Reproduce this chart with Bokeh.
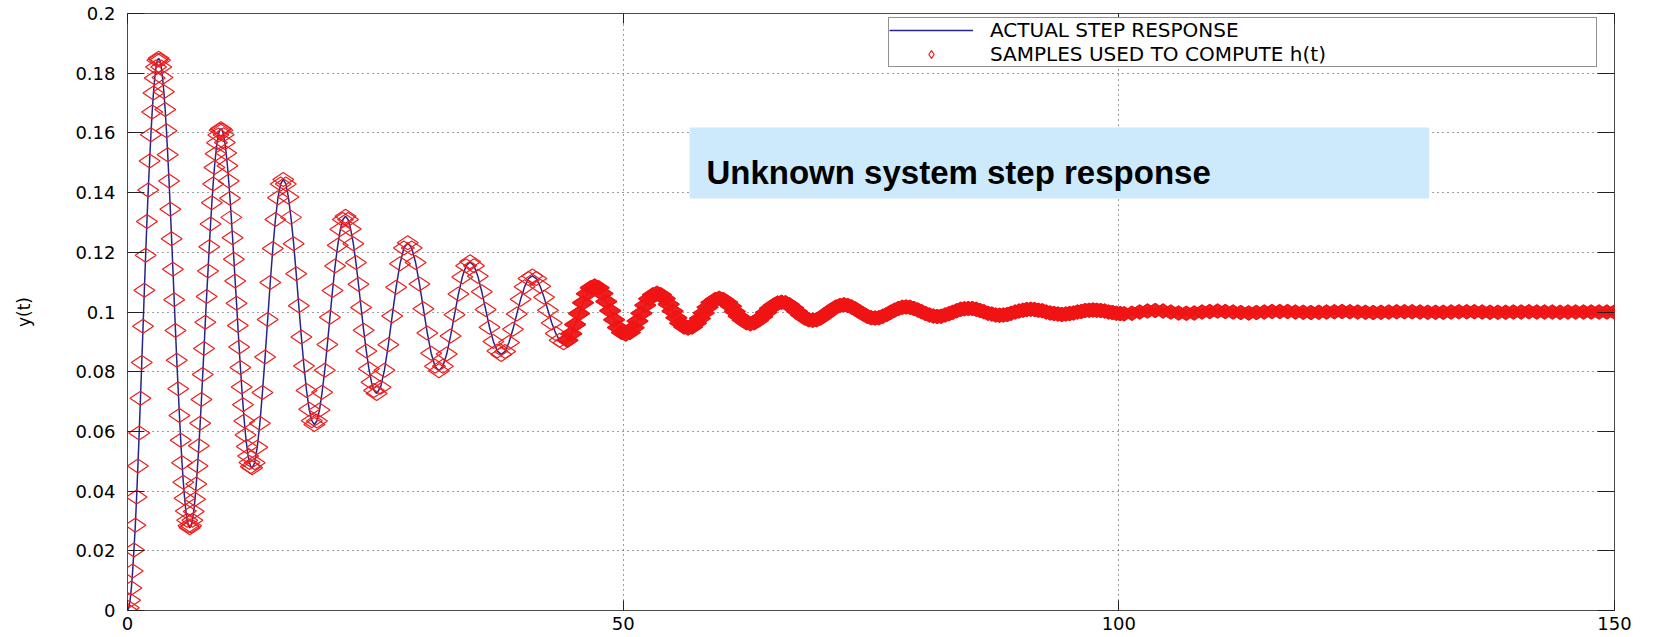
import math
from bokeh.plotting import figure
from bokeh.models import (Range1d, FixedTicker, LinearAxis, Legend, LegendItem,
                          BoxAnnotation, Label, ColumnDataSource)
from bokeh.embed import file_html
from bokeh.resources import INLINE

# ---------------- data ----------------
# first four half-cycles (dense samples)
t_seg1 = [0.00, 0.13, 0.26, 0.39, 0.52, 0.65, 0.79, 0.92, 1.05, 1.18, 1.31, 1.44, 1.57, 1.70, 1.83, 1.96,
          2.09, 2.23, 2.36, 2.49, 2.62, 2.75, 2.88, 3.01, 3.14,
          3.27, 3.40, 3.53, 3.67, 3.80, 3.93, 4.06, 4.19, 4.32, 4.45, 4.58, 4.71, 4.84, 4.97, 5.11, 5.24,
          5.37, 5.50, 5.63, 5.76, 5.89, 6.02, 6.15, 6.28,
          6.41, 6.54, 6.68, 6.81, 6.94, 7.07, 7.20, 7.33, 7.46, 7.59, 7.72, 7.85, 7.98, 8.12, 8.25, 8.38,
          8.51, 8.64, 8.77, 8.90, 9.03, 9.16, 9.29, 9.42,
          9.56, 9.69, 9.82, 9.95, 10.08, 10.21, 10.34, 10.47, 10.60, 10.73, 10.86, 11.00, 11.13, 11.26,
          11.39, 11.52, 11.65, 11.78, 11.91, 12.04, 12.17, 12.30, 12.44, 12.57]
y_seg1 = [0.0000, 0.0009, 0.0034, 0.0075, 0.0132, 0.0203, 0.0286, 0.0380, 0.0484, 0.0595, 0.0711, 0.0831,
          0.0952, 0.1073, 0.1190, 0.1303, 0.1409, 0.1506, 0.1594, 0.1670, 0.1734, 0.1784, 0.1821, 0.1843, 0.1850,
          0.1843, 0.1821, 0.1786, 0.1738, 0.1678, 0.1607, 0.1527, 0.1439, 0.1344, 0.1245, 0.1143, 0.1041,
          0.0938, 0.0838, 0.0743, 0.0653, 0.0570, 0.0495, 0.0430, 0.0376, 0.0333, 0.0302, 0.0284, 0.0277,
          0.0284, 0.0302, 0.0332, 0.0373, 0.0424, 0.0484, 0.0552, 0.0627, 0.0707, 0.0791, 0.0878, 0.0966,
          0.1052, 0.1137, 0.1219, 0.1295, 0.1366, 0.1429, 0.1484, 0.1530, 0.1567, 0.1593, 0.1609, 0.1614,
          0.1609, 0.1594, 0.1568, 0.1533, 0.1490, 0.1439, 0.1381, 0.1317, 0.1249, 0.1177, 0.1104, 0.1029,
          0.0955, 0.0883, 0.0814, 0.0749, 0.0689, 0.0635, 0.0588, 0.0549, 0.0518, 0.0496, 0.0482, 0.0478]

t_seg2 = [12.83, 13.09, 13.35, 13.61, 13.88, 14.14, 14.40, 14.66, 14.92, 15.18, 15.45, 15.71,
          15.97, 16.23, 16.49, 16.76, 17.02, 17.28, 17.54, 17.80, 18.06, 18.33, 18.59, 18.85,
          19.11, 19.37, 19.63, 19.90, 20.16, 20.42, 20.68, 20.94, 21.21, 21.47, 21.73, 21.99,
          22.25, 22.51, 22.78, 23.04, 23.30, 23.56, 23.82, 24.09, 24.35, 24.61, 24.87, 25.13]
y_seg2 = [0.0495, 0.0547, 0.0627, 0.0730, 0.0849, 0.0975, 0.1099, 0.1213, 0.1310, 0.1383, 0.1429, 0.1444,
          0.1429, 0.1385, 0.1317, 0.1229, 0.1128, 0.1021, 0.0916, 0.0819, 0.0737, 0.0674, 0.0636, 0.0623,
          0.0635, 0.0672, 0.0731, 0.0805, 0.0891, 0.0982, 0.1072, 0.1154, 0.1224, 0.1277, 0.1310, 0.1321,
          0.1310, 0.1278, 0.1229, 0.1166, 0.1093, 0.1015, 0.0939, 0.0869, 0.0810, 0.0765, 0.0737, 0.0727]

t_seg3 = [25.53, 25.92, 26.31, 26.70, 27.10, 27.49, 27.88, 28.27,
          28.67, 29.06, 29.45, 29.85, 30.24, 30.63, 31.02, 31.42,
          31.81, 32.20, 32.59, 32.99, 33.38, 33.77, 34.16, 34.56,
          34.95, 35.34, 35.74, 36.13, 36.52, 36.91, 37.31, 37.70,
          38.09, 38.48, 38.88, 39.27, 39.66, 40.06, 40.45, 40.84,
          41.23, 41.63, 42.02, 42.41, 42.80, 43.20, 43.59, 43.98,
          44.38, 44.77, 45.16, 45.55, 45.95, 46.34, 46.73, 47.12,
          47.52, 47.91, 48.30, 48.69, 49.09, 49.48, 49.87, 50.27,
          50.66, 51.05, 51.44, 51.84, 52.23, 52.62, 53.01, 53.41,
          53.80, 54.19, 54.59, 54.98, 55.37, 55.76, 56.16, 56.55,
          56.94, 57.33, 57.73, 58.12, 58.51, 58.90, 59.30, 59.69,
          60.08, 60.48, 60.87, 61.26, 61.65, 62.05, 62.44, 62.83,
          63.22, 63.62, 64.01, 64.40, 64.80, 65.19, 65.58, 65.97,
          66.37, 66.76, 67.15, 67.54, 67.94, 68.33, 68.72, 69.12,
          69.51, 69.90, 70.29, 70.69, 71.08, 71.47, 71.86, 72.26,
          72.65, 73.04, 73.43, 73.83, 74.22, 74.61, 75.01, 75.40,
          75.79, 76.18, 76.58, 76.97, 77.36, 77.75, 78.15, 78.54,
          78.93, 79.33, 79.72, 80.11, 80.50, 80.90, 81.29, 81.68,
          82.07, 82.47, 82.86, 83.25, 83.64, 84.04, 84.43, 84.82,
          85.22, 85.61, 86.00, 86.39, 86.79, 87.18, 87.57, 87.96,
          88.36, 88.75, 89.14, 89.54, 89.93, 90.32, 90.71, 91.11,
          91.50, 91.89, 92.28, 92.68, 93.07, 93.46, 93.86, 94.25,
          94.64, 95.03, 95.43, 95.82, 96.21, 96.60, 97.00, 97.39,
          97.78, 98.17, 98.57, 98.96, 99.35, 99.75, 100.14, 100.53]
y_seg3 = [0.0748, 0.0805, 0.0890, 0.0987, 0.1083, 0.1162, 0.1214, 0.1232,
          0.1214, 0.1166, 0.1094, 0.1011, 0.0930, 0.0862, 0.0818, 0.0803,
          0.0818, 0.0859, 0.0920, 0.0991, 0.1060, 0.1117, 0.1155, 0.1168,
          0.1155, 0.1120, 0.1068, 0.1008, 0.0949, 0.0901, 0.0869, 0.0858,
          0.0868, 0.0898, 0.0942, 0.0993, 0.1043, 0.1085, 0.1112, 0.1121,
          0.1112, 0.1086, 0.1049, 0.1006, 0.0963, 0.0928, 0.0905, 0.0897,
          0.0905, 0.0927, 0.0958, 0.0995, 0.1031, 0.1061, 0.1081, 0.1087,
          0.1081, 0.1062, 0.1035, 0.1004, 0.0974, 0.0948, 0.0931, 0.0926,
          0.0931, 0.0947, 0.0970, 0.0996, 0.1023, 0.1044, 0.1058, 0.1063,
          0.1058, 0.1045, 0.1026, 0.1003, 0.0981, 0.0962, 0.0950, 0.0946,
          0.0950, 0.0962, 0.0978, 0.0997, 0.1016, 0.1032, 0.1042, 0.1046,
          0.1042, 0.1033, 0.1019, 0.1002, 0.0986, 0.0973, 0.0964, 0.0961,
          0.0964, 0.0972, 0.0984, 0.0998, 0.1012, 0.1023, 0.1030, 0.1033,
          0.1031, 0.1024, 0.1013, 0.1002, 0.0990, 0.0980, 0.0974, 0.0972,
          0.0974, 0.0980, 0.0989, 0.0999, 0.1008, 0.1017, 0.1022, 0.1024,
          0.1022, 0.1017, 0.1010, 0.1001, 0.0993, 0.0986, 0.0981, 0.0980,
          0.0981, 0.0986, 0.0992, 0.0999, 0.1006, 0.1012, 0.1016, 0.1017,
          0.1016, 0.1012, 0.1007, 0.1001, 0.0995, 0.0990, 0.0987, 0.0985,
          0.0986, 0.0990, 0.0994, 0.0999, 0.1004, 0.1009, 0.1011, 0.1012,
          0.1012, 0.1009, 0.1005, 0.1001, 0.0996, 0.0993, 0.0990, 0.0989,
          0.0990, 0.0992, 0.0996, 0.1000, 0.1003, 0.1006, 0.1008, 0.1009,
          0.1008, 0.1006, 0.1004, 0.1000, 0.0997, 0.0995, 0.0993, 0.0992,
          0.0993, 0.0995, 0.0997, 0.1000, 0.1002, 0.1005, 0.1006, 0.1007,
          0.1006, 0.1005, 0.1003, 0.1000, 0.0998, 0.0996, 0.0995, 0.0994]

t_seg4 = [101.32, 102.10, 102.89, 103.67, 104.46, 105.24, 106.03, 106.81,
          107.60, 108.39, 109.17, 109.96, 110.74, 111.53, 112.31, 113.10,
          113.88, 114.67, 115.45, 116.24, 117.02, 117.81, 118.60, 119.38,
          120.17, 120.95, 121.74, 122.52, 123.31, 124.09, 124.88, 125.66,
          126.45, 127.23, 128.02, 128.81, 129.59, 130.38, 131.16, 131.95,
          132.73, 133.52, 134.30, 135.09, 135.87, 136.66, 137.44, 138.23,
          139.02, 139.80, 140.59, 141.37, 142.16, 142.94, 143.73, 144.51,
          145.30, 146.08, 146.87, 147.65, 148.44, 149.23, 150.00]
y_seg4 = [0.0996, 0.1000, 0.1003, 0.1005, 0.1003, 0.1000, 0.0997, 0.0996,
          0.0997, 0.1000, 0.1002, 0.1003, 0.1002, 0.1000, 0.0998, 0.0997,
          0.0998, 0.1000, 0.1002, 0.1002, 0.1002, 0.1000, 0.0999, 0.0998,
          0.0999, 0.1000, 0.1001, 0.1002, 0.1001, 0.1000, 0.0999, 0.0998,
          0.0999, 0.1000, 0.1001, 0.1001, 0.1001, 0.1000, 0.0999, 0.0999,
          0.0999, 0.1000, 0.1001, 0.1001, 0.1001, 0.1000, 0.0999, 0.0999,
          0.0999, 0.1000, 0.1000, 0.1001, 0.1000, 0.1000, 0.1000, 0.0999,
          0.1000, 0.1000, 0.1000, 0.1000, 0.1000, 0.1000, 0.1000]

x_ticks = [0, 50, 100, 150]
x_tick_labels = ["0", "50", "100", "150"]
y_ticks = [0, 0.02, 0.04, 0.06, 0.08, 0.1, 0.12, 0.14, 0.16, 0.18, 0.2]
y_tick_labels = ["0", "0.02", "0.04", "0.06", "0.08", "0.1", "0.12", "0.14", "0.16", "0.18", "0.2"]
y_axis_title = "y(t)"
legend_labels = ["ACTUAL STEP RESPONSE", "SAMPLES USED TO COMPUTE h(t)"]
note_text = "Unknown system step response"

# ---------------- figure ----------------
t_all = t_seg1 + t_seg2 + t_seg3 + t_seg4
y_all = y_seg1 + y_seg2 + y_seg3 + y_seg4
src = ColumnDataSource(data=dict(t=t_all, y=y_all))
# where the overlapping samples merge into a solid band (t > ~44)
src_dense = ColumnDataSource(data=dict(t=t_seg3[48:] + t_seg4, y=y_seg3[48:] + y_seg4))

p = figure(width=1657, height=637, output_backend="svg", toolbar_location=None,
           x_range=Range1d(0, 150), y_range=Range1d(0, 0.2),
           min_border_left=127, min_border_right=43, min_border_top=13, min_border_bottom=27,
           background_fill_color="white", border_fill_color="white")
p.outline_line_color = "#4a4a4a"
p.outline_line_width = 1

line_r = p.line("t", "y", source=src, line_color="#25258a", line_width=1.5)
sc_r = p.scatter("t", "y", source=src, marker="diamond", size=21, angle=math.pi / 2,
                 fill_color=None, line_color="#ee1c1c", line_width=1.2)
p.scatter("t", "y", source=src_dense, marker="diamond", size=21, angle=math.pi / 2,
          fill_color="#f01414", fill_alpha=0.95, line_color="#f01414", line_width=1.2)

tick_font = "DejaVu Sans"

xa = p.xaxis[0]
xa.ticker = FixedTicker(ticks=x_ticks)
xa.major_label_overrides = dict(zip(x_ticks, x_tick_labels))
xa.major_label_text_font = tick_font
xa.major_label_text_font_size = "18px"
xa.major_label_text_color = "black"
xa.major_label_standoff = 6
xa.major_tick_in = 10
xa.major_tick_out = 0
xa.minor_tick_line_color = None
xa.axis_line_color = None
xa.major_tick_line_color = "#222222"

ya = p.yaxis[0]
ya.ticker = FixedTicker(ticks=y_ticks)
ya.major_label_overrides = dict(zip(y_ticks, y_tick_labels))
ya.major_label_text_font = tick_font
ya.major_label_text_font_size = "18px"
ya.major_label_text_color = "black"
ya.major_label_standoff = 12
ya.major_tick_in = 17
ya.major_tick_out = 0
ya.minor_tick_line_color = None
ya.axis_line_color = None
ya.major_tick_line_color = "#222222"
ya.axis_label = y_axis_title
ya.axis_label_text_font = tick_font
ya.axis_label_text_font_size = "17px"
ya.axis_label_text_font_style = "normal"
ya.axis_label_text_color = "black"
ya.axis_label_standoff = 38

top_axis = LinearAxis(ticker=FixedTicker(ticks=x_ticks), major_label_text_font_size="1px",
                      major_label_text_color=None,
                      major_label_standoff=0, major_tick_in=10, major_tick_out=0,
                      minor_tick_line_color=None, axis_line_color=None,
                      major_tick_line_color="#222222")
right_axis = LinearAxis(ticker=FixedTicker(ticks=y_ticks), major_label_text_font_size="1px",
                        major_label_text_color=None,
                        major_label_standoff=0, major_tick_in=17, major_tick_out=0,
                        minor_tick_line_color=None, axis_line_color=None,
                        major_tick_line_color="#222222")
p.add_layout(top_axis, "above")
p.add_layout(right_axis, "right")

for g in (p.xgrid[0], p.ygrid[0]):
    g.grid_line_color = "#3a3a3a"
    g.grid_line_dash = "1 4"
    g.grid_line_width = 1

# annotation box with text
note_box = BoxAnnotation(left=56.7, right=131.3, bottom=0.1380, top=0.1618,
                         fill_color="#cceafb", fill_alpha=1.0, line_color=None)
p.add_layout(note_box)
note = Label(x=58.4, y=0.1466, text=note_text, text_font="Liberation Sans",
             text_font_style="bold", text_font_size="33px", text_color="black",
             text_baseline="middle", text_align="left")
p.add_layout(note)

legend = Legend(items=[LegendItem(label=legend_labels[0], renderers=[line_r]),
                       LegendItem(label=legend_labels[1], renderers=[sc_r])],
                location=(761, 543), margin=0, padding=0, spacing=0,
                glyph_width=84, glyph_height=20, label_standoff=17, label_width=606,
                label_height=20,
                label_text_font=tick_font, label_text_font_size="20px",
                label_text_color="black",
                border_line_color="#222222", border_line_width=1,
                background_fill_color="white", background_fill_alpha=1.0)
p.add_layout(legend)

open("out.html", "w").write(file_html(p, INLINE))
